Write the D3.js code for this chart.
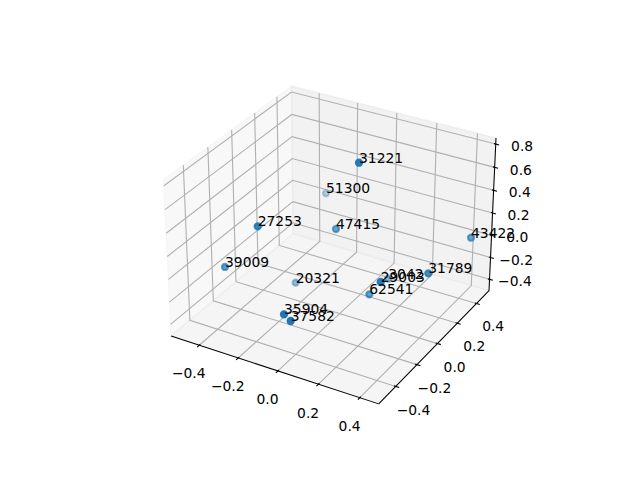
<!DOCTYPE html>
<html><head><meta charset="utf-8">
<script src="https://cdn.jsdelivr.net/npm/d3@7"></script>
<style>body{margin:0;background:#fff} text{font-family:"DejaVu Sans",sans-serif}</style>
</head><body>
<svg id="chart" width="640" height="480"></svg>
<script>
// ---- data ----
const pointLabels = ["31221","51300","47415","27253","39009","20321","35904","37582","43422","31789","3042","29003","62541"];
const xValues = [0.0172,-0.2875,-0.0942,-0.3179,-0.4607,-0.2555,-0.0832,-0.051,0.4342,0.3588,0.1166,0.2274,0.1216];
const yValues = [0.1423,0.3934,0.1365,-0.1729,-0.2272,0.0485,-0.355,-0.3529,0.4338,0.1599,0.2473,-0.0432,0.0529];
const zValues = [0.7195,0.1128,0.0927,0.2589,-0.1285,-0.4023,-0.2361,-0.2797,0.0343,-0.09,-0.342,-0.0599,-0.3108];
const xTicks = [-0.4,-0.2,0,0.2,0.4];
const yTicks = [-0.4,-0.2,0,0.2,0.4];
const zTicks = [-0.4,-0.2,0,0.2,0.4,0.6,0.8];
const xTickLabels = ["\u22120.4","\u22120.2","0.0","0.2","0.4"];
const yTickLabels = ["\u22120.4","\u22120.2","0.0","0.2","0.4"];
const zTickLabels = ["\u22120.4","\u22120.2","0.0","0.2","0.4","0.6","0.8"];
const xLim = [-0.526, 0.469], yLim = [-0.534, 0.512], zLim = [-0.478, 0.824];

// ---- projection (matplotlib-like, elev 30, azim -60, persp) ----
const svg = d3.select("#chart");
const aspect = [4,4,3].map(v => v*1.8294640721620434/Math.sqrt(41));
const sX = d3.scaleLinear().domain(xLim).range([-aspect[0]/2, aspect[0]/2]);
const sY = d3.scaleLinear().domain(yLim).range([-aspect[1]/2, aspect[1]/2]);
const sZ = d3.scaleLinear().domain(zLim).range([-aspect[2]/2, aspect[2]/2]);
const elev = 30*Math.PI/180, azim = -60*Math.PI/180, dist = 10;
const dot = (a,b) => a[0]*b[0]+a[1]*b[1]+a[2]*b[2];
const cross = (a,b) => [a[1]*b[2]-a[2]*b[1], a[2]*b[0]-a[0]*b[2], a[0]*b[1]-a[1]*b[0]];
const norm = a => { const n = Math.hypot(...a); return a.map(v=>v/n); };
const W = [Math.cos(elev)*Math.cos(azim), Math.cos(elev)*Math.sin(azim), Math.sin(elev)];
const U = norm(cross([0,0,1], W));
const V = cross(W, U);
const pxS = d3.scaleLinear().domain([-0.095, 0.09]).range([143.2, 512.8]);
const pyS = d3.scaleLinear().domain([-0.095, 0.09]).range([427.2, 57.6]);
function P(x, y, z) {
  const d = [sX(x), sY(y), sZ(z)];
  const den = dist - dot(W, d);
  return [pxS(dot(U, d)/den), pyS(dot(V, d)/den), -dist/den];
}
const line = pts => d3.line()(pts.map(p => P(...p).slice(0,2)));

const dx = (xLim[1]-xLim[0])/12, dy = (yLim[1]-yLim[0])/12, dz = (zLim[1]-zLim[0])/12;
const x0 = xLim[0]-dx/4, x1 = xLim[1]+dx/4;
const y0 = yLim[0]-dy/4, y1 = yLim[1]+dy/4;
const z0 = zLim[0]-dz/4, z1 = zLim[1]+dz/4;

// panes
const gP = svg.append("g");
const panes = [
  {pts: [[x0,y0,z0],[x0,y1,z0],[x0,y1,z1],[x0,y0,z1]], c: "rgb(242,242,242)"},
  {pts: [[x0,y1,z0],[x1,y1,z0],[x1,y1,z1],[x0,y1,z1]], c: "rgb(230,230,230)"},
  {pts: [[x0,y0,z0],[x1,y0,z0],[x1,y1,z0],[x0,y1,z0]], c: "rgb(236,236,236)"}
];
panes.forEach(p => {
  gP.append("path").attr("d", line(p.pts) + "Z")
    .attr("fill", p.c).attr("fill-opacity", 0.5)
    .attr("stroke", p.c).attr("stroke-opacity", 0.5).attr("stroke-width", 1.39);
});

// grid
const gG = svg.append("g").attr("fill","none").attr("stroke","#b0b0b0").attr("stroke-width",1.11);
xTicks.forEach(t => gG.append("path").attr("d", line([[t,y0,z0],[t,y1,z0],[t,y1,z1]])));
yTicks.forEach(t => gG.append("path").attr("d", line([[x0,t,z1],[x0,t,z0],[x1,t,z0]])));
zTicks.forEach(t => gG.append("path").attr("d", line([[x1,y1,t],[x0,y1,t],[x0,y0,t]])));

// axis lines
const gA = svg.append("g").attr("fill","none").attr("stroke","#000");
gA.append("path").attr("d", line([[x0,y0,z0],[x1,y0,z0]])).attr("stroke-width",1.04);
gA.append("path").attr("d", line([[x1,y0,z0],[x1,y1,z0]])).attr("stroke-width",1.04);
gA.append("path").attr("d", line([[x1,y1,z0],[x1,y1,z1]])).attr("stroke-width",1.04);
xTicks.forEach(t => gA.append("path").attr("stroke-width",1.11).attr("d", line([[t,y0-0.2*dy,z0],[t,y0+0.1*dy,z0]])));
yTicks.forEach(t => gA.append("path").attr("stroke-width",1.11).attr("d", line([[x1+0.2*dx,t,z0],[x1-0.1*dx,t,z0]])));
zTicks.forEach(t => gA.append("path").attr("stroke-width",1.11).attr("d", line([[x1+0.2*dx,y1,t],[x1-0.1*dx,y1,t]])));

// tick labels
const lf = 1.03716;
const gT = svg.append("g").attr("font-size","13.89px").attr("text-anchor","middle").attr("fill","#000");
function tlabel(p, s) {
  const q = P(...p);
  gT.append("text").attr("x", q[0]).attr("y", q[1]).attr("dy", "0.76em").text(s);
}
xTicks.forEach((t,i) => tlabel([t, y0-lf*dy, z0-lf*dz], xTickLabels[i]));
yTicks.forEach((t,i) => tlabel([x1+lf*dx, t, z0-lf*dz], yTickLabels[i]));
zTicks.forEach((t,i) => tlabel([x1+lf*dx, y1+lf*dy, t], zTickLabels[i]));

// scatter with depth shading
const pts = pointLabels.map((l,i) => { const q = P(xValues[i], yValues[i], zValues[i]); return {l, x:q[0], y:q[1], z:q[2]}; });
const zext = d3.extent(pts, d => d.z);
const zn = d3.scaleLinear().domain(zext).range([0,1]);
pts.forEach(d => d.a = 1 - 0.7*zn(d.z));
const gS = svg.append("g");
pts.slice().sort((a,b) => b.z - a.z).forEach(d => {
  gS.append("circle").attr("cx", d.x).attr("cy", d.y).attr("r", 3.1)
    .attr("fill", "#1f77b4").attr("fill-opacity", d.a)
    .attr("stroke", "#1f77b4").attr("stroke-opacity", d.a).attr("stroke-width", 2.08);
});
const gL = svg.append("g").attr("font-size","13.89px").attr("fill","#000");
pts.forEach(d => gL.append("text").attr("x", d.x).attr("y", d.y).text(d.l));
</script>
</body></html>
